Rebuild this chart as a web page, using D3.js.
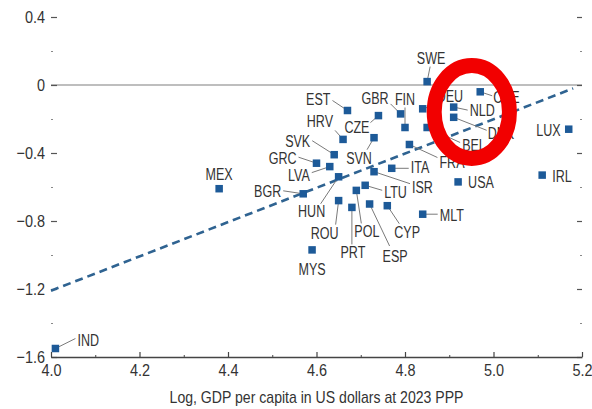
<!DOCTYPE html>
<html><head><meta charset="utf-8">
<script src="https://cdn.jsdelivr.net/npm/d3@7"></script>
<style>
html,body{margin:0;padding:0;background:#fff;}
svg{display:block;}
text{font-family:"Liberation Sans","Arial",sans-serif;}
</style></head>
<body>
<svg id="chart" width="592" height="409"></svg>
<script>
// ---- data ----
const countries = ["IND","MEX","BGR","MYS","HUN","GRC","LVA","SVK","HRV","EST","CZE","SVN","GBR","FIN","SWE","DEU","NLD","CHE","DNK","BEL","FRA","ITA","ISR","LTU","POL","ROU","PRT","ESP","CYP","MLT","USA","IRL","LUX"];
const logGdp = [4.01,4.38,4.57,4.59,4.65,4.60,4.63,4.64,4.66,4.67,4.74,4.73,4.79,4.80,4.85,4.84,4.91,4.97,4.91,4.85,4.81,4.77,4.73,4.71,4.69,4.65,4.68,4.72,4.76,4.84,4.92,5.11,5.17];
const gapValue = [-1.55,-0.61,-0.64,-0.97,-0.54,-0.46,-0.48,-0.41,-0.32,-0.15,-0.18,-0.31,-0.17,-0.25,0.02,-0.14,-0.13,-0.04,-0.19,-0.25,-0.35,-0.49,-0.51,-0.59,-0.62,-0.68,-0.72,-0.70,-0.71,-0.76,-0.57,-0.53,-0.26];
const trendX = [4.0, 5.18];
const trendY = [-1.21, -0.02];
const xTicks = [4.0,4.2,4.4,4.6,4.8,5.0,5.2];
const xMinorTicks = [4.1,4.3,4.5,4.7,4.9,5.1];
const yTicks = [0.4,0,-0.4,-0.8,-1.2,-1.6];
const yTickLabels = ["0.4","0","\u22120.4","\u22120.8","\u22121.2","\u22121.6"];
const yMinorTicks = [0.2,-0.2,-0.6,-1.0,-1.4];
const xTitle = "Log, GDP per capita in US dollars at 2023 PPP";

// ---- layout (label placement relative to each marker, px) ----
const labelLayout = {
  IND:{dx:22,dy:-3,a:"start",l:[20,-10]},
  MEX:{dx:0,dy:-9,a:"middle"},
  BGR:{dx:-22,dy:3,a:"end",l:[-20,-3]},
  MYS:{dx:0,dy:25,a:"middle"},
  HUN:{dx:-27,dy:40,a:"middle",l:[-18,27]},
  GRC:{dx:-20,dy:1,a:"end",l:[-18,-6]},
  LVA:{dx:-20,dy:14,a:"end",l:[-18,6]},
  SVK:{dx:-24,dy:-8,a:"end",l:[-22,-14]},
  HRV:{dx:-10,dy:-12,a:"end",l:[-8,-9]},
  EST:{dx:-17,dy:-6,a:"end",l:[-15,-10]},
  CZE:{dx:-9,dy:17,a:"end",l:[-8,7]},
  SVN:{dx:-15,dy:26,a:"middle",l:[-7,12]},
  GBR:{dx:-12,dy:-10,a:"end",l:[-10,-10]},
  FIN:{dx:0,dy:-23,a:"middle",l:[0,-20]},
  SWE:{dx:4,dy:-18,a:"middle",l:[3,-15]},
  DEU:{dx:14,dy:-7,a:"start",l:[13,-4]},
  NLD:{dx:16,dy:9,a:"start",l:[14,3]},
  CHE:{dx:13,dy:11,a:"start",l:[12,4]},
  DNK:{dx:34,dy:22,a:"start",l:[33,13]},
  BEL:{dx:35,dy:23,a:"start",l:[33,15]},
  FRA:{dx:30,dy:23,a:"start",l:[28,13]},
  ITA:{dx:19,dy:5,a:"start",l:[17,0]},
  ISR:{dx:38,dy:21,a:"start",l:[36,12]},
  LTU:{dx:19,dy:13,a:"start",l:[17,5]},
  POL:{dx:-2,dy:47,a:"start",l:[5,33]},
  ROU:{dx:0,dy:38,a:"end",l:[-3,24]},
  PRT:{dx:1,dy:51,a:"middle",l:[0,37]},
  ESP:{dx:13,dy:58,a:"start",l:[20,42]},
  CYP:{dx:7,dy:32,a:"start",l:[12,18]},
  MLT:{dx:17,dy:7,a:"start",l:[15,0]},
  USA:{dx:10,dy:6,a:"start"},
  IRL:{dx:10,dy:7,a:"start"},
  LUX:{dx:-8,dy:7,a:"end"}
};

const svg = d3.select("#chart");
const mLeft = 51, mRight = 582, mTop = 17, mBottom = 357;
const x = d3.scaleLinear().domain([4.0,5.2]).range([mLeft,mRight]);
const y = d3.scaleLinear().domain([-1.6,0.4]).range([mBottom,mTop]);
const axisColor = "#555", textColor = "#333", markColor = "#1d5a98";
const tickSX = 0.85, labelSX = 0.76, titleSX = 0.88;

// zero line
svg.append("line").attr("x1",x(4.0)).attr("x2",x(5.2)).attr("y1",y(0)).attr("y2",y(0))
  .attr("stroke","#a8a8a8").attr("stroke-width",1.5);

// left axis
const gl = svg.append("g").attr("transform",`translate(${mLeft},0)`)
  .call(d3.axisLeft(y).tickValues(yTicks).tickSizeInner(-6).tickSizeOuter(0).tickPadding(6)
    .tickFormat((d,i)=>yTickLabels[i]));
gl.select(".domain").remove();
gl.selectAll(".tick line").attr("stroke",axisColor).attr("stroke-width",1.2);
gl.selectAll(".tick text").attr("fill",textColor).style("font-size","17px")
  .attr("x",-6/tickSX).attr("transform",`scale(${tickSX},1)`);
const glm = svg.append("g").attr("transform",`translate(${mLeft},0)`)
  .call(d3.axisLeft(y).tickValues(yMinorTicks).tickSizeInner(-2).tickSizeOuter(0).tickFormat(""));
glm.select(".domain").remove();
glm.selectAll(".tick line").attr("stroke","#888");

// right axis
const gr = svg.append("g").attr("transform",`translate(${mRight},0)`)
  .call(d3.axisRight(y).tickValues(yTicks).tickSizeInner(-5).tickSizeOuter(0).tickFormat(""));
gr.select(".domain").remove();
gr.selectAll(".tick line").attr("stroke",axisColor).attr("stroke-width",1.2);
const grm = svg.append("g").attr("transform",`translate(${mRight},0)`)
  .call(d3.axisRight(y).tickValues(yMinorTicks).tickSizeInner(-2).tickSizeOuter(0).tickFormat(""));
grm.select(".domain").remove();
grm.selectAll(".tick line").attr("stroke","#888");

// x axis
const gx = svg.append("g").attr("transform",`translate(0,${mBottom})`)
  .call(d3.axisBottom(x).tickValues(xTicks).tickSizeInner(-5).tickSizeOuter(0).tickPadding(7)
    .tickFormat(d3.format(".1f")));
gx.select(".domain").attr("stroke","#444").attr("stroke-width",1.3);
gx.selectAll(".tick line").attr("stroke","#444").attr("stroke-width",1.2);
gx.selectAll(".tick text").attr("fill",textColor).style("font-size","17px")
  .attr("transform",`scale(${tickSX},1)`);
const gxm = svg.append("g").attr("transform",`translate(0,${mBottom})`)
  .call(d3.axisBottom(x).tickValues(xMinorTicks).tickSizeInner(-2).tickSizeOuter(0).tickFormat(""));
gxm.select(".domain").remove();
gxm.selectAll(".tick line").attr("stroke","#444");

// x title
svg.append("text")
  .attr("transform",`translate(${(mLeft+mRight)/2},403) scale(${titleSX},1)`)
  .attr("text-anchor","middle")
  .attr("fill",textColor).style("font-size","16px").text(xTitle);

// trend line
svg.append("path").datum(trendX.map((v,i)=>[v,trendY[i]]))
  .attr("d",d3.line().x(d=>x(d[0])).y(d=>y(d[1])))
  .attr("fill","none").attr("stroke","#2f6391").attr("stroke-width",2.6)
  .attr("stroke-dasharray","8,5");

const data = countries.map((c,i)=>({c, gx:logGdp[i], gy:gapValue[i], L:labelLayout[c]}));

// leader lines
svg.append("g").selectAll("line").data(data.filter(d=>d.L.l)).join("line")
  .attr("x1",d=>x(d.gx)).attr("y1",d=>y(d.gy))
  .attr("x2",d=>x(d.gx)+d.L.l[0]).attr("y2",d=>y(d.gy)+d.L.l[1])
  .attr("stroke","#7a7a7a").attr("stroke-width",1);

// markers
const sz = 7.5;
svg.append("g").selectAll("rect").data(data).join("rect")
  .attr("x",d=>x(d.gx)-sz/2).attr("y",d=>y(d.gy)-sz/2)
  .attr("width",sz).attr("height",sz).attr("fill",markColor);

// labels
svg.append("g").selectAll("text").data(data).join("text")
  .attr("transform",d=>`translate(${x(d.gx)+d.L.dx},${y(d.gy)+d.L.dy}) scale(${labelSX},1)`)
  .attr("text-anchor",d=>d.L.a).attr("fill",textColor)
  .style("font-size","16.5px").text(d=>d.c);

// red annotation circle
const ann = {cx:4.951, cy:-0.159, rx:0.085, ry:0.273};
svg.append("ellipse").attr("cx",x(ann.cx)).attr("cy",y(ann.cy))
  .attr("rx",x(ann.cx+ann.rx)-x(ann.cx)).attr("ry",y(ann.cy-ann.ry)-y(ann.cy))
  .attr("fill","none").attr("stroke","#f20000").attr("stroke-width",15);
</script>
</body></html>
